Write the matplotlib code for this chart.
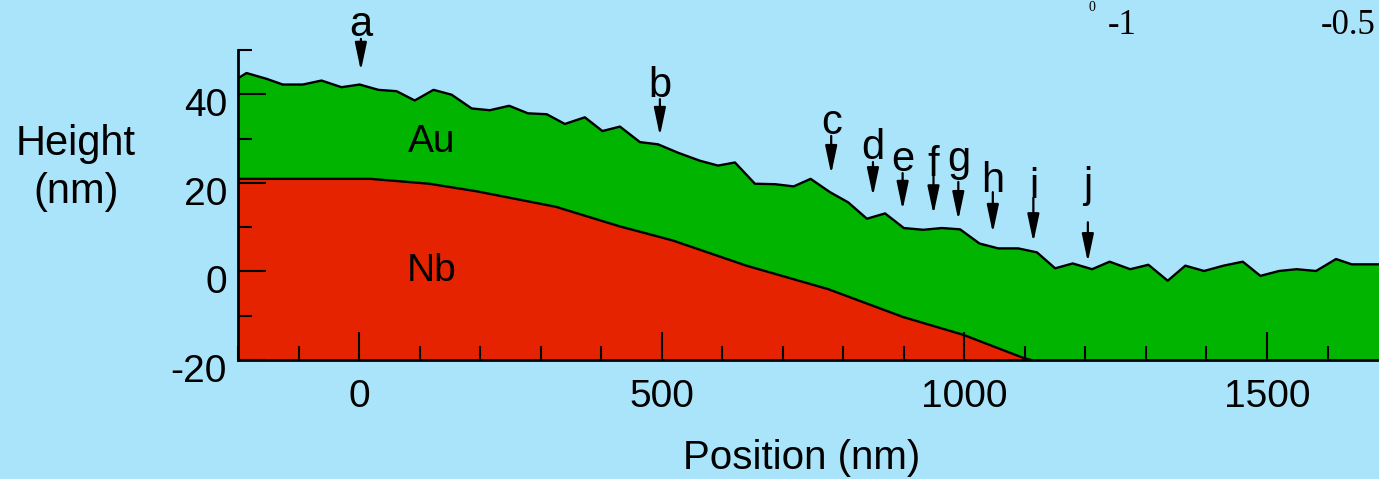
import matplotlib
matplotlib.use("Agg")
import matplotlib.pyplot as plt
import matplotlib.transforms as mtransforms
from matplotlib.ticker import MultipleLocator

plt.rcParams["font.family"] = ["Liberation Sans", "DejaVu Sans"]
plt.rcParams["axes.unicode_minus"] = False

# surface profile (top of Au)
surf_x = [-200, -186, -153, -126, -93, -62, -29, 1, 32, 62, 92, 123, 153, 186,
          216, 248, 279, 310, 340, 373, 402, 431, 464, 494, 527, 563, 593, 621,
          654, 687, 718, 746, 778, 808, 839, 869, 900, 932, 963, 993, 1025,
          1056, 1089, 1120, 1150, 1179, 1211, 1240, 1274, 1304, 1336, 1365,
          1396, 1428, 1460, 1489, 1520, 1549, 1581, 1614, 1640, 1700]
surf_y = [43.6, 44.8, 43.5, 42.2, 42.2, 43.1, 41.6, 42.2, 41.0, 40.7, 38.6, 41.0,
          39.9, 36.8, 36.4, 37.4, 35.7, 35.5, 33.3, 34.8, 31.7, 32.7, 29.2, 28.7,
          26.8, 25.0, 23.9, 24.6, 19.8, 19.7, 19.2, 20.9, 17.9, 15.6, 11.9, 13.1,
          9.8, 9.4, 9.8, 9.5, 6.3, 5.2, 5.2, 4.3, 0.7, 1.8, 0.5, 2.2, 0.5, 1.5,
          -2.1, 1.3, 0.1, 1.3, 2.2, -1.0, 0.1, 0.5, 0.1, 2.8, 1.6, 1.6]

# Nb / Au interface
nb_x = [-200, 19, 116, 194, 325, 430, 518, 640, 775, 899, 998, 1097, 1110]
nb_y = [20.9, 20.9, 19.8, 18.1, 14.6, 10.2, 7.0, 1.3, -4.0, -10.3, -14.3, -19.5, -20.0]

# arrow labels: letter, x, text baseline, arrow start, arrow tip
marks = ["a", "b", "c", "d", "e", "f", "g", "h", "i", "j"]
mark_x = [3, 497, 780, 849, 898, 949, 990, 1047, 1114, 1204]
mark_txt = [53.2, 39.4, 31.0, 25.4, 22.7, 21.5, 22.7, 17.9, 16.6, 16.8]
mark_from = [52.5, 38.9, 30.6, 24.7, 22.2, 21.5, 20.2, 17.9, 16.6, 11.1]
mark_to = [45.3, 30.6, 22.0, 17.0, 13.9, 12.9, 11.6, 8.7, 6.6, 2.1]

BG = "#aae4fa"
GREEN = "#00b400"
RED = "#e62300"

fig = plt.figure(figsize=(13.79, 4.79), dpi=100, facecolor=BG)
ax = fig.add_axes([238 / 1379, 119 / 479, 1 - 238 / 1379, 310 / 479])
ax.set_facecolor(BG)

ax.fill_between(surf_x, surf_y, -30, color=GREEN, lw=0)
ax.fill_between(nb_x, nb_y, -30, color=RED, lw=0)
ax.plot(surf_x, surf_y, color="black", lw=1.7)
ax.plot(nb_x, nb_y, color="black", lw=1.7)

for m, x, yt, y0, y1 in zip(marks, mark_x, mark_txt, mark_from, mark_to):
    ax.text(x, yt, m, fontsize=30, ha="center", va="baseline", clip_on=False)
    ax.annotate("", xy=(x, y1), xytext=(x, y0), annotation_clip=False,
                arrowprops=dict(arrowstyle="-|>,head_length=0.85,head_width=0.18",
                                color="black", lw=1.6, shrinkA=0, shrinkB=0,
                                mutation_scale=20))

ax.text(120, 29.2, "Au", fontsize=28, ha="center", va="center")
ax.text(120, 0, "Nb", fontsize=28, ha="center", va="center")

ax.set_xlim(-200, 1685)
ax.set_ylim(-20, 50)
for s in ["top", "right"]:
    ax.spines[s].set_visible(False)
for s in ["left", "bottom"]:
    ax.spines[s].set_linewidth(2)
    ax.spines[s].set_zorder(5)

ax.xaxis.set_major_locator(MultipleLocator(500))
ax.xaxis.set_minor_locator(MultipleLocator(100))
ax.yaxis.set_major_locator(MultipleLocator(20))
ax.yaxis.set_minor_locator(MultipleLocator(10))
ax.tick_params(which="both", direction="in", width=1.5, labelsize=28, colors="black")
ax.tick_params(which="major", length=20)
ax.tick_params(which="minor", length=10)
ax.tick_params(axis="x", pad=14)
ax.tick_params(axis="y", pad=8)

shift = mtransforms.ScaledTranslation(0, -0.08, fig.dpi_scale_trans)
for lab in ax.get_yticklabels():
    lab.set_transform(lab.get_transform() + shift)

fig.text(802 / 1379, 1 - 458 / 479, "Position (nm)", fontsize=29,
         ha="center", va="center")
fig.text(76 / 1379, 1 - 168 / 479, "Height\n(nm)", fontsize=30,
         ha="center", va="center", multialignment="center", linespacing=1.25)

# leftover labels of a neighbouring panel at the top edge
serif = ["Liberation Serif", "DejaVu Serif"]
fig.text(1092 / 1379, 1 - 1 / 479, "0", fontsize=10, family=serif,
         ha="center", va="top")
fig.text(1122 / 1379, 1 - 25 / 479, "-1", fontsize=25, family=serif,
         ha="center", va="center")
fig.text(1348 / 1379, 1 - 25 / 479, "-0.5", fontsize=25, family=serif,
         ha="center", va="center")

fig.savefig("out.png", dpi=100, facecolor=BG)
